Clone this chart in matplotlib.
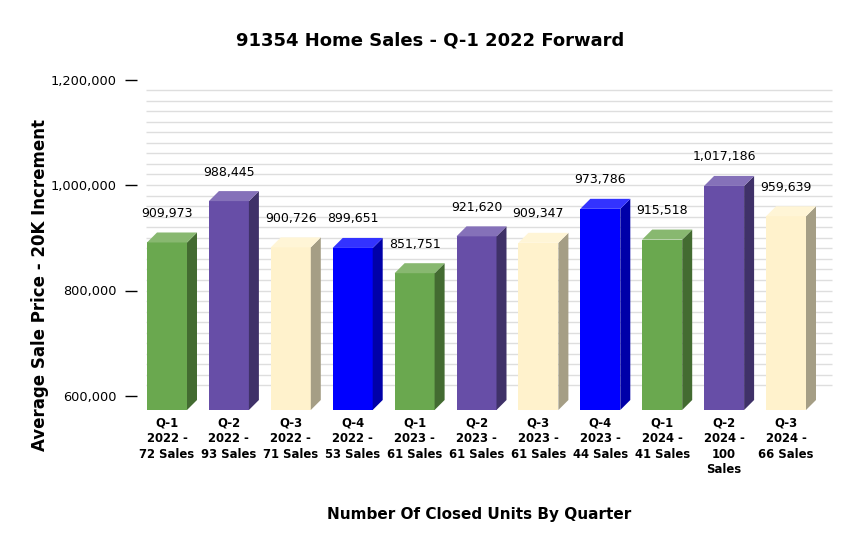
import matplotlib
matplotlib.use('Agg')
import matplotlib.pyplot as plt
from matplotlib.patches import Polygon

# ---------------------------------- data ----------------------------------
quarters = ['Q-1\n2022 -\n72 Sales', 'Q-2\n2022 -\n93 Sales', 'Q-3\n2022 -\n71 Sales',
            'Q-4\n2022 -\n53 Sales', 'Q-1\n2023 -\n61 Sales', 'Q-2\n2023 -\n61 Sales',
            'Q-3\n2023 -\n61 Sales', 'Q-4\n2023 -\n44 Sales', 'Q-1\n2024 -\n41 Sales',
            'Q-2\n2024 -\n100\nSales', 'Q-3\n2024 -\n66 Sales']
avg_price = [909973, 988445, 900726, 899651, 851751, 921620,
             909347, 973786, 915518, 1017186, 959639]
y_ticks = [600000, 800000, 1000000, 1200000]

# front / side / top colours per quarter (Q-1, Q-2, Q-3, Q-4)
palette = [('#6aa84f', '#436b31', '#88b870'),
           ('#674ea7', '#3f3168', '#8571b9'),
           ('#fff2cc', '#a59e85', '#fff5d6'),
           ('#0000ff', '#0000a8', '#3333ff')]

# ------------------------------- layout ----------------------------------
W, H, DPI = 860, 553, 100
fig = plt.figure(figsize=(W / DPI, H / DPI), dpi=DPI)

# axes in pixels
ax_l, ax_r, ax_t, ax_b = 137, 837, 70, 410
ax = fig.add_axes([ax_l / W, 1 - ax_b / H, (ax_r - ax_l) / W, (ax_b - ax_t) / H])

px_per_bar = 61.9           # horizontal px per category
val_per_px = 200000 / 105.5  # value units per vertical px
x0_px = 167                  # px of first bar centre
x_lo = (ax_l - x0_px) / px_per_bar
x_hi = (ax_r - x0_px) / px_per_bar
y_lo = 1000000 - (ax_b - 185) * val_per_px
y_hi = 1000000 + (185 - ax_t) * val_per_px
ax.set_xlim(x_lo, x_hi)
ax.set_ylim(y_lo, y_hi)

depth_x = 10 / px_per_bar
depth_y = 10 * val_per_px
bar_w = 40 / px_per_bar

# back-wall gridlines
grid_vals = list(range(620000, 1180001, 20000))
ax.hlines(grid_vals, (146 - x0_px) / px_per_bar, (832 - x0_px) / px_per_bar,
          color='#dedede', lw=1, zorder=0)

# 3D-looking bars
for i, v in enumerate(avg_price):
    front, side, top = palette[i % 4]
    ax.bar(i, v - depth_y - y_lo, bottom=y_lo, width=bar_w, color=front, zorder=2)
    r = i + bar_w / 2
    l = i - bar_w / 2
    ax.add_patch(Polygon([(r, y_lo), (r + depth_x, y_lo + depth_y), (r + depth_x, v), (r, v - depth_y)],
                         closed=True, facecolor=side, edgecolor='none', zorder=2))
    ax.add_patch(Polygon([(l, v - depth_y), (r, v - depth_y), (r + depth_x, v), (l + depth_x, v)],
                         closed=True, facecolor=top, edgecolor='none', zorder=2))
    ax.annotate(f'{v:,}', (i, v), xytext=(0, 19 * 72 / DPI), textcoords='offset points',
                ha='center', va='center', fontsize=9, color='black')

for s in ax.spines.values():
    s.set_visible(False)

ax.set_yticks(y_ticks)
ax.set_yticklabels([f'{t:,}' for t in y_ticks], fontsize=9.3)
ax.tick_params(axis='y', direction='out', length=12 * 72 / DPI, width=1, pad=8 * 72 / DPI)

ax.set_xticks(range(len(quarters)))
ax.set_xticklabels(quarters, fontsize=8.4, fontweight='bold', linespacing=1.25)
ax.tick_params(axis='x', length=0, pad=5)

fig.text(430 / W, 1 - 40 / H, '91354 Home Sales - Q-1 2022 Forward',
         ha='center', va='center', fontsize=13, fontweight='bold')
fig.text(479 / W, 1 - 515 / H, 'Number Of Closed Units By Quarter',
         ha='center', va='center', fontsize=11, fontweight='bold')
fig.text(40 / W, 1 - 285 / H, 'Average Sale Price - 20K Increment',
         ha='center', va='center', rotation=90, fontsize=12, fontweight='bold')

fig.savefig('out.png', dpi=DPI)
